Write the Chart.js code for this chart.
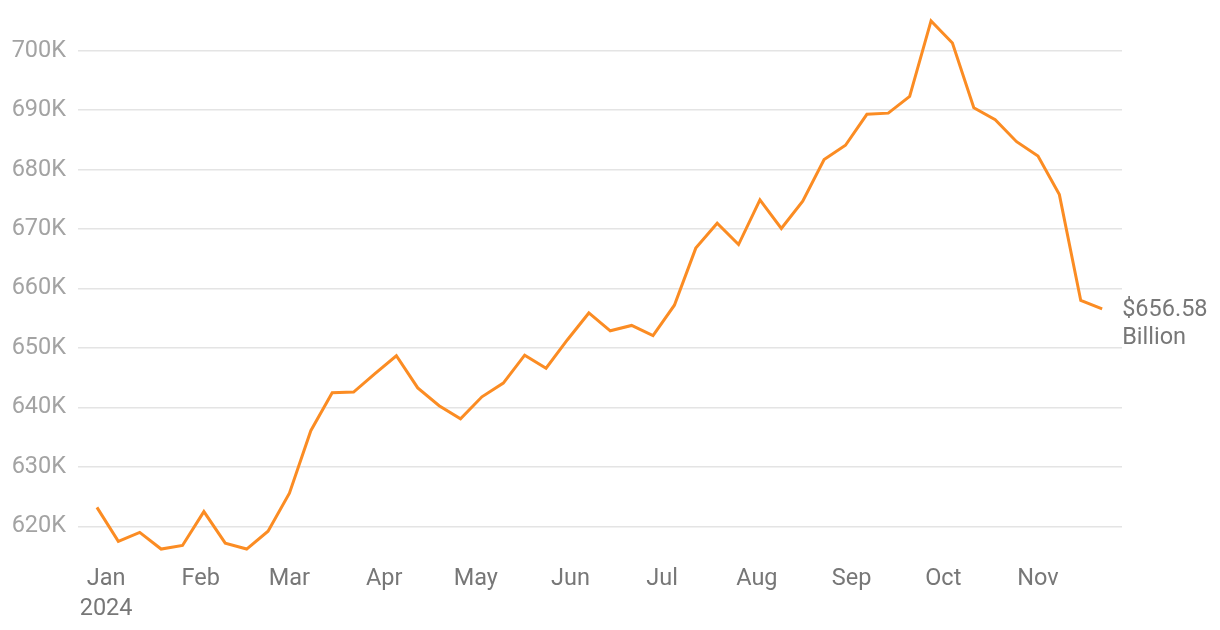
<!DOCTYPE html>
<html>
<head>
<meta charset="utf-8">
<script src="https://cdn.jsdelivr.net/npm/chart.js@4"></script>
<style>
  html, body { margin: 0; padding: 0; background: #ffffff; }
  #wrap { width: 1220px; height: 630px; position: relative; }
</style>
</head>
<body>
<div id="wrap"><canvas id="c"></canvas></div>
<script>
// ---- Data ----
const weekDates = [
  '2023-12-29',
  '2024-01-05','2024-01-12','2024-01-19','2024-01-26',
  '2024-02-02','2024-02-09','2024-02-16','2024-02-23',
  '2024-03-01','2024-03-08','2024-03-15','2024-03-22','2024-03-29',
  '2024-04-05','2024-04-12','2024-04-19','2024-04-26',
  '2024-05-03','2024-05-10','2024-05-17','2024-05-24','2024-05-31',
  '2024-06-07','2024-06-14','2024-06-21','2024-06-28',
  '2024-07-05','2024-07-12','2024-07-19','2024-07-26',
  '2024-08-02','2024-08-09','2024-08-16','2024-08-23','2024-08-30',
  '2024-09-06','2024-09-13','2024-09-20','2024-09-27',
  '2024-10-04','2024-10-11','2024-10-18','2024-10-25',
  '2024-11-01','2024-11-08','2024-11-15','2024-11-22'
];
const values = [
  623.2, 617.5, 619.0, 616.2, 616.8, 622.5, 617.2, 616.2, 619.2, 625.6,
  636.1, 642.5, 642.6, 645.7, 648.7, 643.3, 640.3, 638.1, 641.8, 644.1,
  648.8, 646.6, 651.4, 655.9, 652.9, 653.8, 652.1, 657.2, 666.8, 671.0,
  667.4, 674.9, 670.1, 674.7, 681.7, 684.1, 689.3, 689.5, 692.3, 705.0,
  701.3, 690.4, 688.4, 684.7, 682.3, 675.8, 658.0, 656.58
];
const monthStarts = ['2024-01-01','2024-02-01','2024-03-01','2024-04-01','2024-05-01','2024-06-01',
                     '2024-07-01','2024-08-01','2024-09-01','2024-10-01','2024-11-01'];
const xTickLabels = [['Jan','2024'],'Feb','Mar','Apr','May','Jun','Jul','Aug','Sep','Oct','Nov'];
const yTickValues = [620, 630, 640, 650, 660, 670, 680, 690, 700];
const yTickLabels = ['620K','630K','640K','650K','660K','670K','680K','690K','700K'];
const endLabel = ['$656.58', 'Billion'];

// ---- Helpers ----
const origin = Date.UTC(2024, 0, 1);
function dayOf(s) {
  const [y, m, d] = s.split('-').map(Number);
  return Math.round((Date.UTC(y, m - 1, d) - origin) / 86400000);
}
const points = weekDates.map((d, i) => ({ x: dayOf(d), y: values[i] }));
const monthDays = monthStarts.map(dayOf);

const FONT = 'Roboto';
const FS = 23.5;

const endLabelPlugin = {
  id: 'endLabel',
  afterDatasetsDraw(chart) {
    const meta = chart.getDatasetMeta(0);
    const p = meta.data[meta.data.length - 1];
    const ctx = chart.ctx;
    ctx.save();
    ctx.font = FS + 'px ' + FONT;
    ctx.fillStyle = '#777777';
    ctx.textAlign = 'left';
    ctx.textBaseline = 'middle';
    ctx.fillText(endLabel[0], p.x + 20, p.y + 1);
    ctx.fillText(endLabel[1], p.x + 20, p.y + 29);
    ctx.restore();
  }
};

new Chart(document.getElementById('c'), {
  type: 'line',
  data: {
    datasets: [{
      data: points,
      borderColor: '#fb8c23',
      borderWidth: 3,
      pointRadius: 0,
      pointHoverRadius: 0,
      tension: 0,
      fill: false,
      clip: false
    }]
  },
  options: {
    responsive: true,
    maintainAspectRatio: false,
    animation: false,
    layout: { padding: { top: 15, right: 98, bottom: 0, left: 0 } },
    plugins: { legend: { display: false }, tooltip: { enabled: false } },
    scales: {
      x: {
        type: 'linear',
        min: -9.2,
        max: 332.5,
        afterBuildTicks(scale) { scale.ticks = monthDays.map(v => ({ value: v })); },
        afterFit(scale) { scale.height = 75; scale.paddingLeft = 0; scale.paddingRight = 0; },
        grid: { display: false, drawTicks: false },
        border: { display: false },
        ticks: {
          autoSkip: false,
          maxRotation: 0,
          minRotation: 0,
          padding: 9,
          color: '#777777',
          font: { family: FONT, size: FS, lineHeight: 1.27 },
          callback: (v, i) => xTickLabels[i]
        }
      },
      y: {
        min: 615.2,
        max: 706,
        afterBuildTicks(scale) { scale.ticks = yTickValues.map(v => ({ value: v })); },
        afterFit(scale) { scale.width = 78; scale.paddingTop = 0; scale.paddingBottom = 0; },
        grid: { color: '#e4e4e4', lineWidth: 1.5, drawTicks: false },
        border: { display: false },
        ticks: {
          padding: 12,
          color: '#a3a3a3',
          font: { family: FONT, size: FS },
          callback: (v, i) => yTickLabels[i]
        }
      }
    }
  },
  plugins: [endLabelPlugin]
});
</script>
</body>
</html>
